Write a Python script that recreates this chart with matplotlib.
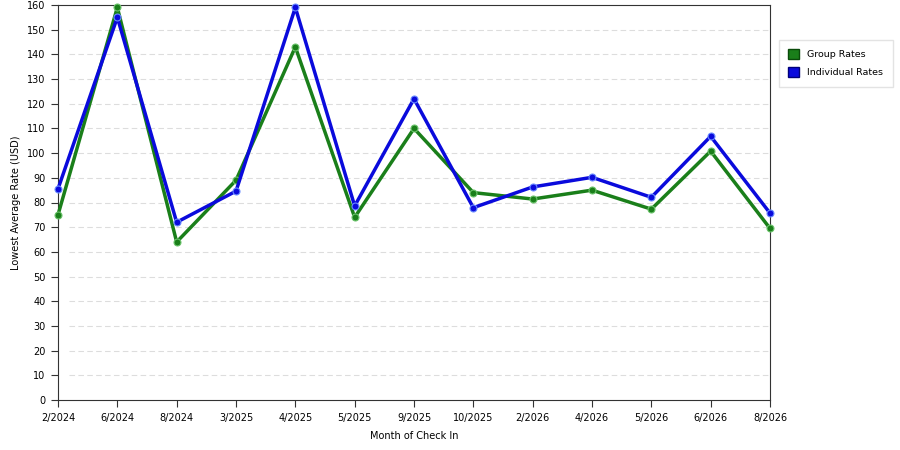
import matplotlib
matplotlib.use("Agg")
import matplotlib.pyplot as plt
from matplotlib.patches import Patch

months = ["2/2024", "6/2024", "8/2024", "3/2025", "4/2025", "5/2025", "9/2025",
          "10/2025", "2/2026", "4/2026", "5/2026", "6/2026", "8/2026"]
group_rates = [75, 159, 64, 89, 143, 74, 110, 84, 81.4, 85, 77.3, 100.8, 69.5]
individual_rates = [85.5, 155, 72, 84.6, 159, 78.6, 122, 77.9, 86.3, 90.2, 82.1, 106.8, 75.7]

GREEN = "#1a7f1a"
BLUE = "#0a0adc"

fig = plt.figure(figsize=(9, 4.5), dpi=100)
ax = fig.add_axes([58 / 900, 50 / 450, 712 / 900, 395 / 450])

x = list(range(len(months)))

ax.plot(x, group_rates, color=GREEN, linewidth=2.5, marker="o", markersize=5,
        markerfacecolor=GREEN, markeredgecolor="#6cc46c", markeredgewidth=0.8, zorder=3,
        clip_on=False)
ax.plot(x, individual_rates, color=BLUE, linewidth=2.5, marker="o", markersize=5,
        markerfacecolor=BLUE, markeredgecolor="#6a8cff", markeredgewidth=0.8, zorder=4,
        clip_on=False)

ax.set_xlim(0, len(months) - 1)
ax.set_ylim(0, 160)
ax.set_yticks(range(0, 161, 10))
ax.set_xticks(x)
ax.set_xticklabels(months)
ax.tick_params(axis="both", labelsize=7, length=5, width=0.8, color="#333333", pad=4)

for y in range(10, 160, 10):
    ax.axhline(y, xmin=0.015, xmax=1, color="#dddddd", linestyle=(0, (5, 3)),
               linewidth=0.8, zorder=1)

for spine in ax.spines.values():
    spine.set_color("#333333")
    spine.set_linewidth(0.8)

ax.set_xlabel("Month of Check In", fontsize=7, labelpad=6)
ax.set_ylabel("Lowest Average Rate (USD)", fontsize=7, labelpad=4)

handles = [Patch(facecolor=GREEN, edgecolor="#0a4a0a", label="Group Rates"),
           Patch(facecolor=BLUE, edgecolor="#00007a", label="Individual Rates")]
fig.legend(handles=handles, loc="upper left", bbox_to_anchor=(779 / 900, 1 - 40 / 450),
           borderaxespad=0, fontsize=6.8, frameon=True, fancybox=False,
           edgecolor="#dddddd", handlelength=1.1, handleheight=1.2, handletextpad=0.9,
           borderpad=1.0, labelspacing=0.8)

fig.savefig("out.png", dpi=100)
